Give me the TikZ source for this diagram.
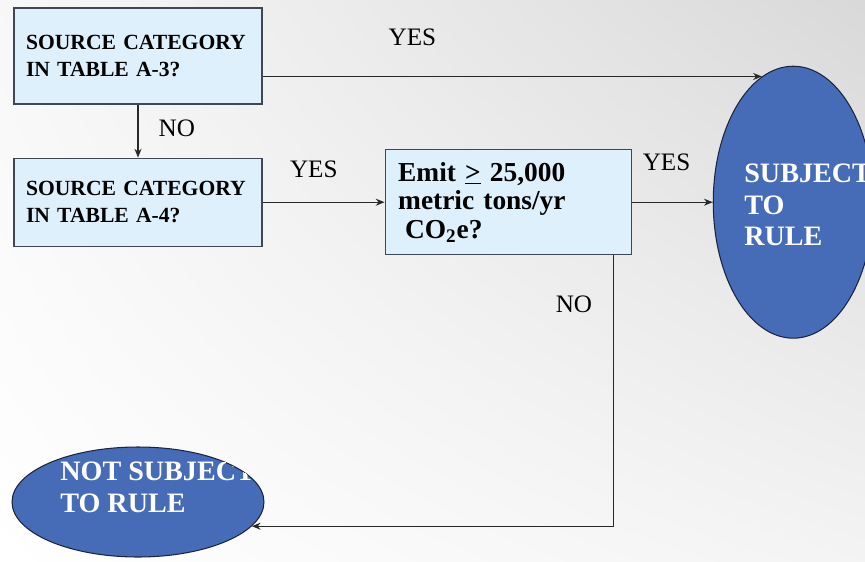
\documentclass[tikz,border=0pt]{standalone}
\usepackage{fontspec}
\setmainfont{Liberation Serif}
\usetikzlibrary{positioning}
\usetikzlibrary{shapes.geometric, arrows.meta, calc, shadings}

\definecolor{qfill}{RGB}{222,240,252}
\definecolor{qline}{RGB}{62,72,84}
\definecolor{rulefill}{RGB}{70,108,184}
\definecolor{ruleline}{RGB}{28,36,60}
\definecolor{flowline}{RGB}{40,40,40}

\tikzset{
	question/.style = {rectangle, draw=qline, fill=qfill, line width=0.7pt,
		align=left, inner xsep=0.24cm,
		font=\bfseries\fontsize{12.3}{15.6}\selectfont},
	outcome/.style = {ellipse, draw=ruleline, fill=rulefill, line width=0.6pt, inner sep=0pt},
	outtext/.style = {text=white, align=left, anchor=north west, inner sep=0pt,
		font=\bfseries\fontsize{16}{17.8}\selectfont},
	answer/.style = {inner sep=0pt, text=black, font=\fontsize{14.3}{16}\selectfont}
}

\begin{document}
\begin{tikzpicture}[x=0.02cm, y=-0.02cm]
	\useasboundingbox (0,0) rectangle (865,561);
	% background
	\shade[upper left=gray!6, upper right=gray!30, lower left=white, lower right=gray!9]
		(0,0) rectangle (865,561);

	\node (tab3) [question, minimum width=4.96cm, minimum height=1.92cm,
		text width=4.48cm] at (138,56) {SOURCE CATEGORY\\IN TABLE A-3?};
	\node (tab4) [question, minimum width=4.96cm, minimum height=1.76cm,
		text width=4.48cm, below=1.06cm of tab3] {SOURCE CATEGORY\\IN TABLE A-4?};
	\node (emit) [question, minimum width=4.92cm, minimum height=2.1cm,
		inner xsep=0.26cm, text width=4.4cm, right=2.44cm of tab4,
		font=\bfseries\fontsize{15.6}{16.3}\selectfont]
		{Emit \underline{>} 25,000\\metric tons/yr\\\hspace{0.25em}CO\textsubscript{2}e?};
	\node (subj) [outcome, minimum width=3.2cm, minimum height=5.44cm,
		right=1.62cm of emit] {};
	\node (notsub) [outcome, minimum width=5.04cm, minimum height=2.2cm] at (138,502) {};

	\node (subjtext) [outtext] at (744,164) {SUBJECT\\TO\\RULE};
	\begin{scope}
		\clip (notsub.center) ellipse [x radius=126, y radius=55];
		\node (notsubtext) [outtext] at (60,462) {NOT SUBJECT\\TO RULE};
	\end{scope}

	\coordinate (top) at (subj.104);
	\coordinate (low) at (notsub.-12);
	\path [-{Stealth[length=5pt, width=4pt]}, line width=0.7pt, color=flowline]
		(tab3.east |- top) edge node[answer, pos=0.3, above=0.6cm] {YES} (top)
		(tab3) edge node[answer, pos=0.44, right=0.4cm] {NO} (tab4)
		(tab4) edge node[answer, pos=0.42, above=0.48cm] {YES} (emit)
		(emit) edge node[answer, pos=0.43, above=0.62cm] {YES} (subj);
	\draw [-{Stealth[length=5pt, width=4pt]}, line width=0.7pt, flowline]
		([xshift=-0.36cm]emit.south east) |- node[answer, pos=0.09, left=0.42cm] {NO} (low);
\end{tikzpicture}
\end{document}
